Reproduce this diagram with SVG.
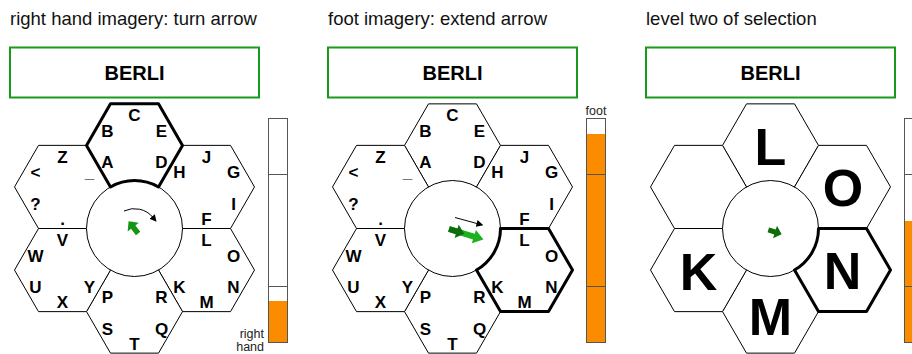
<svg xmlns="http://www.w3.org/2000/svg" width="912" height="354" viewBox="0 0 912 354">
<style>
.title{font-family:"Liberation Sans",Arial,sans-serif;font-size:18.5px;fill:#111}
.word{font-family:"Liberation Sans",Arial,sans-serif;font-size:20px;font-weight:bold;fill:#000;text-anchor:middle}
.box{fill:#fff;stroke:#1a9a1a;stroke-width:2}
.hex{fill:#fff;stroke:#000;stroke-width:1}
.sel{fill:none;stroke:#000;stroke-width:3;stroke-linejoin:round}
.hub{fill:#fff;stroke:#000;stroke-width:1}
.k{font-family:"Liberation Sans",Arial,sans-serif;font-size:17px;font-weight:bold;fill:#000;text-anchor:middle}
.big{font-family:"Liberation Sans",Arial,sans-serif;font-size:52px;font-weight:bold;fill:#000;text-anchor:middle}
.bar{fill:#fff;stroke:#555;stroke-width:1}
.fill{fill:#fb8c00}
.div{stroke:#555;stroke-width:1}
.lbl{font-family:"Liberation Sans",Arial,sans-serif;font-size:12.5px;fill:#222}
.thin{fill:none;stroke:#000;stroke-width:1}
</style>
<defs>
<path id="hexp" d="M-24,-41.57 L24,-41.57 L48,0 L24,41.57 L-24,41.57 L-48,0Z"/>
<marker id="ah" viewBox="0 0 10 10" refX="2" refY="5" markerWidth="7" markerHeight="7" markerUnits="userSpaceOnUse" orient="auto"><path d="M0,0 L10,5 L0,10Z" fill="#000"/></marker>
</defs>

<!-- Panel 1 -->
<g id="panel1">
<text class="title" x="10" y="25">right hand imagery: turn arrow</text>
<g id="p1-box"><rect class="box" x="10" y="47.5" width="249" height="50"/><text class="word" x="134.5" y="80">BERLI</text></g>
<g id="p1-hex-top"><use href="#hexp" class="hex" x="134.5" y="145.43"/></g>
<g id="p1-hex-ur"><use href="#hexp" class="hex" x="206.5" y="186.93"/></g>
<g id="p1-hex-lr"><use href="#hexp" class="hex" x="206.5" y="270.07"/></g>
<g id="p1-hex-bot"><use href="#hexp" class="hex" x="134.5" y="311.57"/></g>
<g id="p1-hex-ll"><use href="#hexp" class="hex" x="62.5" y="270.07"/></g>
<g id="p1-hex-ul"><use href="#hexp" class="hex" x="62.5" y="186.93"/></g>
<g id="p1-hub"><circle class="hub" cx="134.5" cy="228.5" r="48"/></g>
<path class="sel" d="M110.5,186.93 L86.5,145.43 L110.5,103.86 L158.5,103.86 L182.5,145.43 L158.5,186.93 A48,48 0 0 0 110.5,186.93Z"/>
<g id="p1-letters">
<text class="k" x="134.5" y="121.4">C</text><text class="k" x="107.5" y="136.9">B</text><text class="k" x="161.5" y="136.9">E</text><text class="k" x="107.5" y="168.4">A</text><text class="k" x="161.5" y="168.4">D</text>
<text class="k" x="206.5" y="162.9">J</text><text class="k" x="179.5" y="178.4">H</text><text class="k" x="233.5" y="178.4">G</text><text class="k" x="233.5" y="209.9">I</text><text class="k" x="206.5" y="224.9">F</text>
<text class="k" x="62.5" y="162.9">Z</text><text class="k" x="35.5" y="178.4">&lt;</text><text class="k" x="89.5" y="178.4">_</text><text class="k" x="35.5" y="209.9">?</text><text class="k" x="62.5" y="224.9">.</text>
<text class="k" x="62.5" y="246.1">V</text><text class="k" x="35.5" y="261.6">W</text><text class="k" x="89.5" y="293.1">Y</text><text class="k" x="35.5" y="293.1">U</text><text class="k" x="62.5" y="308.1">X</text>
<text class="k" x="206.5" y="246.1">L</text><text class="k" x="233.5" y="261.6">O</text><text class="k" x="233.5" y="293.1">N</text><text class="k" x="206.5" y="308.1">M</text><text class="k" x="179.5" y="293.1">K</text>
<text class="k" x="107.5" y="303.1">P</text><text class="k" x="161.5" y="303.1">R</text><text class="k" x="107.5" y="334.6">S</text><text class="k" x="161.5" y="334.6">Q</text><text class="k" x="134.5" y="349.6">T</text>
</g>
<g id="p1-arrows">
<path class="thin" d="M124,211 A24,24 0 0 1 153,217.5" marker-end="url(#ah)"/>
<polygon points="0,-8 7,-0.5 2.8,-0.5 2.8,7.5 -2.8,7.5 -2.8,-0.5 -7,-0.5" fill="#149614" transform="translate(133.5,227.5) rotate(-38)"/>
</g>
<g id="p1-bar">
<rect class="bar" x="268.5" y="118.5" width="19" height="224"/>
<rect class="fill" x="268.5" y="301" width="19" height="41.5"/>
<rect x="268.5" y="118.5" width="19" height="224" style="fill:none;stroke:#555;stroke-width:1"/>
<line class="div" x1="268.5" y1="174.5" x2="287.5" y2="174.5"/><line class="div" x1="268.5" y1="286.5" x2="287.5" y2="286.5"/>
<text class="lbl" x="264" y="338" text-anchor="end">right</text><text class="lbl" x="264" y="351" text-anchor="end">hand</text>
</g>
</g>

<!-- Panel 2 -->
<g id="panel2">
<text class="title" x="328" y="25">foot imagery: extend arrow</text>
<g id="p2-box"><rect class="box" x="328" y="47.5" width="249" height="50"/><text class="word" x="452.5" y="80">BERLI</text></g>
<g id="p2-hex-top"><use href="#hexp" class="hex" x="452.5" y="145.43"/></g>
<g id="p2-hex-ur"><use href="#hexp" class="hex" x="524.5" y="186.93"/></g>
<g id="p2-hex-lr"><use href="#hexp" class="hex" x="524.5" y="270.07"/></g>
<g id="p2-hex-bot"><use href="#hexp" class="hex" x="452.5" y="311.57"/></g>
<g id="p2-hex-ll"><use href="#hexp" class="hex" x="380.5" y="270.07"/></g>
<g id="p2-hex-ul"><use href="#hexp" class="hex" x="380.5" y="186.93"/></g>
<g id="p2-hub"><circle class="hub" cx="452.5" cy="228.5" r="48"/></g>
<path class="sel" d="M500.5,228.5 L548.5,228.5 L572.5,270.07 L548.5,311.57 L500.5,311.57 L476.5,270.07 A48,48 0 0 0 500.5,228.5Z"/>
<g id="p2-letters" transform="translate(318,0)">
<text class="k" x="134.5" y="121.4">C</text><text class="k" x="107.5" y="136.9">B</text><text class="k" x="161.5" y="136.9">E</text><text class="k" x="107.5" y="168.4">A</text><text class="k" x="161.5" y="168.4">D</text>
<text class="k" x="206.5" y="162.9">J</text><text class="k" x="179.5" y="178.4">H</text><text class="k" x="233.5" y="178.4">G</text><text class="k" x="233.5" y="209.9">I</text><text class="k" x="206.5" y="224.9">F</text>
<text class="k" x="62.5" y="162.9">Z</text><text class="k" x="35.5" y="178.4">&lt;</text><text class="k" x="89.5" y="178.4">_</text><text class="k" x="35.5" y="209.9">?</text><text class="k" x="62.5" y="224.9">.</text>
<text class="k" x="62.5" y="246.1">V</text><text class="k" x="35.5" y="261.6">W</text><text class="k" x="89.5" y="293.1">Y</text><text class="k" x="35.5" y="293.1">U</text><text class="k" x="62.5" y="308.1">X</text>
<text class="k" x="206.5" y="246.1">L</text><text class="k" x="233.5" y="261.6">O</text><text class="k" x="233.5" y="293.1">N</text><text class="k" x="206.5" y="308.1">M</text><text class="k" x="179.5" y="293.1">K</text>
<text class="k" x="107.5" y="303.1">P</text><text class="k" x="161.5" y="303.1">R</text><text class="k" x="107.5" y="334.6">S</text><text class="k" x="161.5" y="334.6">Q</text><text class="k" x="134.5" y="349.6">T</text>
</g>
<g id="p2-arrows">
<line class="thin" x1="455" y1="217.5" x2="478" y2="223.8" marker-end="url(#ah)"/>
<polygon points="0,-3 26,-3 26,-7 36,0 26,7 26,3 0,3" fill="#1fb01f" transform="translate(449,229) rotate(17)"/>
<polygon points="0,-3 8,-3 8,-7 16,0 8,7 8,3 0,3" fill="#0b6e0b" transform="translate(449,229) rotate(17)"/>
</g>
<g id="p2-bar">
<rect class="bar" x="586.5" y="118.5" width="19" height="224"/>
<rect class="fill" x="586.5" y="134" width="19" height="208.5"/>
<rect x="586.5" y="118.5" width="19" height="224" style="fill:none;stroke:#555;stroke-width:1"/>
<line class="div" x1="586.5" y1="174.5" x2="605.5" y2="174.5"/><line class="div" x1="586.5" y1="286.5" x2="605.5" y2="286.5"/>
<text class="lbl" x="596" y="115" text-anchor="middle">foot</text>
</g>
</g>

<!-- Panel 3 -->
<g id="panel3">
<text class="title" x="646" y="25">level two of selection</text>
<g id="p3-box"><rect class="box" x="646" y="47.5" width="249" height="50"/><text class="word" x="770.5" y="80">BERLI</text></g>
<g id="p3-hex-top"><use href="#hexp" class="hex" x="770.5" y="145.43"/><text class="big" x="770.5" y="164.5">L</text></g>
<g id="p3-hex-ur"><use href="#hexp" class="hex" x="842.5" y="186.93"/><text class="big" x="843" y="205.5">O</text></g>
<g id="p3-hex-lr"><use href="#hexp" class="hex" x="842.5" y="270.07"/><text class="big" x="842.5" y="288.5">N</text></g>
<g id="p3-hex-bot"><use href="#hexp" class="hex" x="770.5" y="311.57"/><text class="big" x="770.5" y="335">M</text></g>
<g id="p3-hex-ll"><use href="#hexp" class="hex" x="698.5" y="270.07"/><text class="big" x="698.5" y="289.5">K</text></g>
<g id="p3-hex-ul"><use href="#hexp" class="hex" x="698.5" y="186.93"/></g>
<g id="p3-hub"><circle class="hub" cx="770.5" cy="228.5" r="48"/></g>
<path class="sel" d="M818.5,228.5 L866.5,228.5 L890.5,270.07 L866.5,311.57 L818.5,311.57 L794.5,270.07 A48,48 0 0 0 818.5,228.5Z"/>
<g id="p3-arrows">
<polygon points="-7,-2.5 0,-2.5 0,-6.5 7,0 0,6.5 0,2.5 -7,2.5" fill="#0b6e0b" transform="translate(775,232) rotate(18)"/>
</g>
<g id="p3-bar">
<rect class="bar" x="904.5" y="118.5" width="19" height="224"/>
<rect class="fill" x="904.5" y="221" width="19" height="121.5"/>
<rect x="904.5" y="118.5" width="19" height="224" style="fill:none;stroke:#555;stroke-width:1"/>
<line class="div" x1="904.5" y1="174.5" x2="923.5" y2="174.5"/><line class="div" x1="904.5" y1="286.5" x2="923.5" y2="286.5"/>
</g>
</g>
</svg>
